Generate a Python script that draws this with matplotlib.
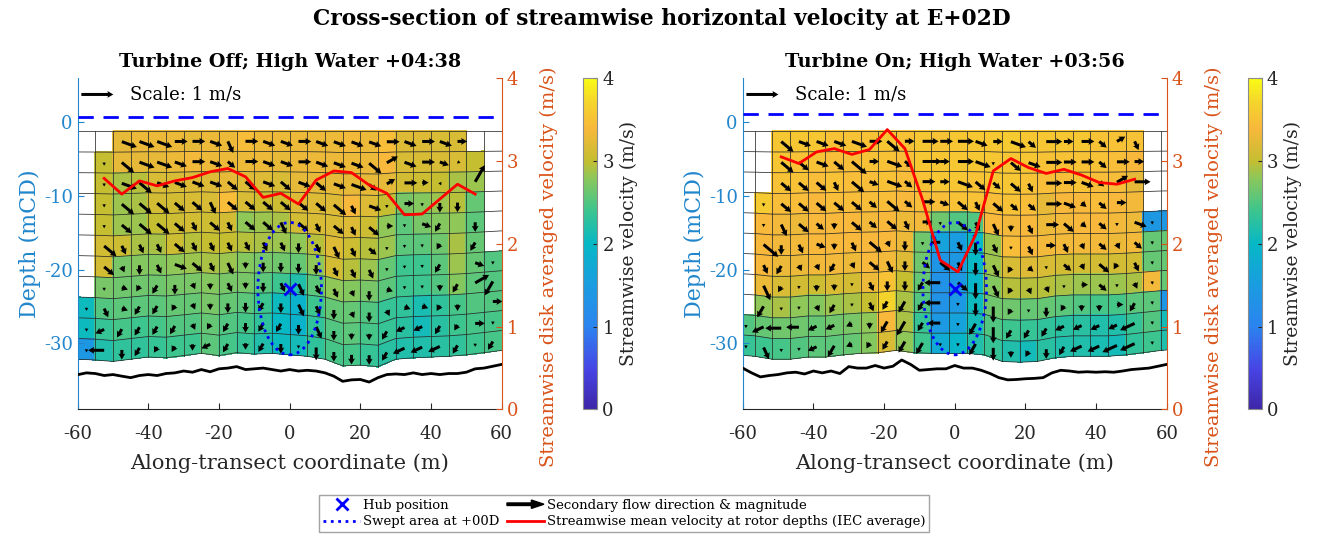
#
# Cross-section of streamwise velocity, turbine off / on, with secondary flow arrows
#

import numpy as np
import matplotlib
matplotlib.use("Agg")
from matplotlib import pyplot as plt
from matplotlib.colors import LinearSegmentedColormap
from matplotlib.patches import Ellipse, FancyArrow
from matplotlib.lines import Line2D
from matplotlib.legend_handler import HandlerBase

plt.rcParams['font.family'] = ['DejaVu Serif']
plt.rcParams['axes.unicode_minus'] = False

#
# Data
#

nan = np.nan
GRID_TOP = -1.2
N_ROWS = 11
HUB_DEPTH = -22.6
ROTOR_RADIUS = 9.0

# column edges (m) and bottom of the measurement grid at each edge (mCD)
off_edges = np.arange(-60, 61, 5)
off_bottom = [-32.2, -32.3, -32.5, -32.2, -31.9, -32.0, -31.7, -31.4, -31.7, -31.3, -31.5, -31.4, -31.6,
              -31.8, -32.2, -33.1, -33.0, -33.2, -32.2, -32.0, -31.9, -31.8, -31.6, -31.3, -31.0]
on_edges = np.arange(-61.6, 63.5, 5)
on_bottom = [-31.6, -31.8, -32.2, -32.2, -31.9, -31.9, -31.6, -31.4, -31.3, -31.0, -31.3, -31.4, -31.4,
             -31.4, -31.6, -32.5, -32.6, -32.5, -32.0, -31.8, -31.8, -31.8, -31.6, -31.3, -31.0, -30.8]

# streamwise velocity (m/s), rows from surface to bed
off_speed = [
    [nan, nan, 3.25, 3.3, 3.3, 3.3, 3.25, 3.3, 3.3, 3.45, 3.3, 3.3, 3.3, 3.3, 3.3, 3.35, 3.3, 3.45, 3.2, 3.2, 3.15, 3.15, nan, nan],
    [nan, 3.0, 3.25, 3.25, 3.25, 3.3, 3.35, 3.3, 3.3, 3.3, 3.3, 3.25, 3.3, 3.3, 3.3, 3.3, 3.3, 3.4, 3.15, 3.15, 3.15, 3.15, 3.0, nan],
    [nan, 3.0, 2.9, 2.95, 3.15, 3.15, 3.2, 3.2, 3.25, 3.2, 3.2, 3.15, 3.25, 3.25, 3.25, 3.25, 3.25, 3.25, 3.1, 3.05, 3.0, 2.9, 2.85, nan],
    [nan, 3.0, 2.85, 2.9, 3.1, 3.1, 3.15, 3.15, 3.45, 3.15, 3.05, 3.05, 3.2, 3.2, 3.2, 3.4, 3.2, 3.0, 2.7, 2.75, 2.85, 2.95, 2.6, nan],
    [nan, 3.0, 2.85, 2.85, 3.0, 3.05, 3.1, 3.05, 3.1, 2.8, 2.85, 2.9, 3.1, 3.15, 3.15, 3.2, 3.05, 2.8, 2.55, 2.7, 2.75, 2.8, 2.55, nan],
    [nan, 3.1, 3.05, 2.9, 2.9, 3.05, 2.95, 3.0, 3.0, 2.95, 2.9, 2.85, 2.8, 2.95, 3.2, 3.05, 2.95, 2.85, 2.55, 2.55, 2.65, 2.9, 2.6, nan],
    [nan, 3.1, 2.7, 2.75, 2.75, 2.8, 2.85, 2.9, 2.85, 2.75, 2.7, 2.65, 2.6, 2.8, 3.1, 2.95, 2.85, 2.6, 2.4, 2.4, 2.55, 2.85, 2.6, 2.5],
    [nan, 2.7, 2.65, 2.65, 2.65, 2.7, 2.7, 2.75, 2.7, 2.7, 2.55, 2.4, 2.2, 2.55, 2.8, 2.75, 2.7, 2.55, 2.4, 2.4, 2.5, 2.75, 2.55, 2.5],
    [2.05, 2.5, 2.55, 2.55, 2.55, 2.6, 2.6, 2.7, 2.6, 2.55, 2.4, 2.05, 1.9, 2.4, 2.6, 2.6, 2.5, 2.35, 2.3, 2.15, 2.3, 2.45, 2.5, 2.5],
    [2.05, 2.35, 2.45, 2.4, 2.45, 2.5, 2.5, 2.6, 2.5, 2.45, 2.3, 2.0, 1.9, 2.3, 2.5, 2.55, 2.45, 2.35, 2.25, 2.1, 2.25, 2.4, 2.45, 2.45],
    [1.4, 2.2, 2.3, 2.3, 2.35, 2.4, 2.4, 2.55, 2.45, 2.35, 2.2, 2.05, 2.1, 2.3, 2.45, 2.45, 2.35, 2.25, 2.2, 2.2, 2.25, 2.3, 2.4, 2.45],
]
on_speed = [
    [nan, nan, 3.55, 3.55, 3.55, 3.5, 3.5, 3.5, 3.55, 3.5, 3.55, 3.5, 3.55, 3.55, 3.55, 3.6, 3.55, 3.55, 3.55, 3.55, 3.5, 3.5, 3.5, nan, nan],
    [nan, nan, 3.55, 3.5, 3.5, 3.45, 3.45, 3.5, 3.5, 3.45, 3.55, 3.55, 3.55, 3.55, 3.55, 3.55, 3.55, 3.5, 3.5, 3.5, 3.5, 3.45, 3.4, nan, nan],
    [nan, nan, 3.5, 3.5, 3.45, 3.5, 3.45, 3.45, 3.5, 3.45, 3.5, 3.55, 3.55, 3.5, 3.55, 3.55, 3.5, 3.45, 3.45, 3.5, 3.45, 3.45, 3.25, nan, nan],
    [nan, 3.6, 3.45, 3.45, 3.4, 3.45, 3.45, 3.45, 3.45, 3.4, 3.45, 3.45, 3.5, 3.5, 3.45, 3.5, 3.45, 3.25, 3.4, 3.4, 3.45, 3.4, 3.35, nan, nan],
    [nan, 3.4, 3.35, 3.3, 3.4, 3.4, 3.4, 3.35, 3.4, 3.3, 3.35, 2.65, 2.5, 2.5, 3.4, 3.35, 3.4, 3.3, 3.35, 3.4, 3.4, 3.35, 3.3, 1.4, 1.4],
    [nan, 3.4, 3.35, 3.35, 3.4, 3.4, 3.4, 3.4, 3.4, 3.3, 2.65, 1.6, 1.5, 2.0, 2.85, 3.45, 3.4, 3.35, 3.35, 3.35, 3.35, 3.3, 3.35, 2.6, 2.6],
    [nan, 3.4, 3.3, 3.3, 3.35, 3.35, 3.3, 3.4, 3.35, 3.2, 2.65, 1.35, 1.4, 2.0, 2.85, 3.15, 3.2, 3.15, 3.1, 3.1, 3.1, 3.1, 3.1, 2.6, 2.6],
    [nan, 3.3, 3.15, 3.1, 3.05, 3.15, 3.1, 3.3, 3.5, 3.0, 2.6, 1.3, 1.4, 1.95, 2.75, 2.95, 2.95, 2.95, 2.9, 2.85, 2.85, 2.85, 2.9, 3.35, 2.6],
    [nan, 2.8, 2.9, 2.8, 2.75, 2.85, 2.9, 3.0, 3.7, 2.9, 2.5, 1.3, 1.45, 2.05, 2.65, 2.65, 2.6, 2.6, 2.55, 2.5, 2.45, 2.45, 2.55, 2.55, 1.35],
    [2.5, 2.6, 2.65, 2.65, 2.6, 2.65, 2.7, 2.8, 3.4, 2.9, 2.35, 1.45, 1.6, 2.1, 2.5, 2.4, 2.35, 2.3, 2.25, 2.25, 2.2, 2.2, 2.35, 2.5, 2.1],
    [2.35, 2.4, 2.45, 2.5, 2.55, 2.55, 2.6, 2.75, 3.15, 2.8, 2.4, 1.75, 1.95, 2.2, 2.35, 2.2, 2.1, 2.25, 2.2, 2.2, 2.15, 2.1, 2.3, 2.4, 2.2],
]

# secondary flow arrows: direction code and magnitude (tenths of m/s), one char per cell
# 6 east, e east-south-east, 3 south-east, s steep south-east, 2 down, 1 south-west,
# l west-south-west, 4 west, 9 north-east, n steep north-east, . tiny
ARROW_ANGLE = {'6': 0, 'e': -20, '3': -40, 's': -65, '2': -90, '1': -120,
               'l': -155, '4': 180, '9': 30, 'n': 60, '.': -90}
off_dir = [
    "  eee66es6ee6eeee6e6e6  ",
    " .3eee6e36ee6eee39e6ee. ",
    " .e3eeee33e3e3ee3966s.n ",
    " .33333s3333333se.6.222 ",
    " .3333s3s33s3s3s36.e122 ",
    " 3sss3ssssss2sss3...121 ",
    " 3s2se3ss22222sss...11e.",
    " .e112s2s22sssss2e..2191",
    ".se111s22212ss2s2see1266",
    ".l1111s112112s2221ll116.",
    ".421112l1212.22221lll1.1",
]
off_mag = [
    "  55544444444444444443  ",
    " 155544434444444544431  ",
    " 15544444444444533421 6 ",
    " 155544444444453413133 3",
    " 14554343444434342133 3 ",
    " 53334333333334331112 3 ",
    " 42334434233333331113 31",
    " 12233223233433232112355",
    "1323322233334332322222 3",
    "133333223333343223333231",
    "153322233233143333444313",
]
on_dir = [
    "  3eeee636666e6e366639s  ",
    "  33e336e3666e.3e666366  ",
    "  333s3ee366e333s66e396  ",
    " .333333336e3s3336e3366  ",
    " .s332333s6.3ss2s6333.e. ",
    " 32se2s3s2.4s2s.s6ss3s3. ",
    " s1ss1s3s233s2s13.3s31s. ",
    " s1.22.s221432s1ss.63.s. ",
    " 1..s1.s1114.221.212261. ",
    ".l44lll21114.12111lllll. ",
    ".s..l1l1111..122121llll. ",
]
on_mag = [
    "  544454535454353534333  ",
    "  544463536355144544343  ",
    "  444353534354343544245  ",
    " 144444353434343354233 4 ",
    " 14432434331434234423141 ",
    " 63332352313343133323231 ",
    " 33223244334344221324231 ",
    " 52122133335454222123121 ",
    " 41123133435145213222231 ",
    "145433224534145333333351 ",
    "141134223441144223344551 ",
]

# disk averaged streamwise velocity (right axis, m/s)
off_disk_x = np.arange(-52.5, 53, 5)
off_disk = [2.79, 2.60, 2.76, 2.70, 2.76, 2.80, 2.87, 2.91, 2.81, 2.56, 2.61, 2.48, 2.77, 2.88, 2.86,
            2.71, 2.61, 2.35, 2.36, 2.54, 2.72, 2.60]
on_disk_x = np.arange(-49.1, 51, 5)
on_disk = [3.05, 2.97, 3.11, 3.15, 3.08, 3.14, 3.38, 3.15, 2.53, 1.80, 1.66, 2.11, 2.88, 3.03, 2.92,
           2.85, 2.90, 2.83, 2.74, 2.72, 2.78]

# bed level (mCD)
bed_x = np.arange(-60, 60.1, 2.5)
off_bed = [-34.3, -34.05, -34.14, -34.41, -34.28, -34.5, -34.7, -34.41, -34.28, -34.41, -34.14, -34.05,
           -33.8, -33.96, -33.6, -33.9, -33.5, -33.4, -33.2, -33.6, -33.5, -33.4, -33.6, -33.8, -33.6,
           -33.8, -33.7, -33.8, -34.05, -34.5, -35.2, -35.0, -34.95, -35.3, -34.7, -34.28, -34.2, -34.28,
           -34.05, -34.28, -34.14, -34.28, -34.14, -34.14, -33.96, -33.5, -33.4, -33.15, -32.9]
on_bed = [-33.4, -34.05, -34.6, -34.41, -34.28, -34.05, -33.96, -34.2, -33.8, -34.05, -33.8, -34.14,
          -33.2, -33.4, -33.4, -33.05, -33.4, -33.15, -32.3, -32.9, -33.7, -33.6, -33.5, -33.5, -33.05,
          -33.4, -33.4, -33.7, -34.14, -34.7, -35.0, -34.95, -34.85, -34.8, -34.7, -34.05, -33.7, -33.8,
          -33.96, -33.9, -33.96, -33.9, -33.96, -33.8, -33.6, -33.5, -33.4, -33.15, -32.9]

off_surface = 0.8
on_surface = 1.1

#
# Styling
#

BLUE_AX = '#2186cc'
ORANGE_AX = '#d95319'
parula = LinearSegmentedColormap.from_list('parula_like', [
    (0.00, '#3e26a8'), (0.12, '#4744e5'), (0.25, '#2b84f0'), (0.375, '#1a9ce0'),
    (0.50, '#06b8c6'), (0.60, '#3cc58e'), (0.70, '#8dc75a'), (0.75, '#c4be31'),
    (0.85, '#f8b83b'), (0.93, '#f5d52c'), (1.00, '#f9fb15')])


class HandlerArrow(HandlerBase):
    def create_artists(self, legend, orig_handle, xdescent, ydescent, width, height, fontsize, trans):
        arrow = FancyArrow(-xdescent, height / 2 - ydescent, width, 0, width=1.8, head_width=6,
                           head_length=9, length_includes_head=True, color='k', transform=trans)
        return [arrow]


def draw_panel(ax, edges, bottom, speed, dirs, mags, disk_x, disk_v, bed, surface, title):
    edges = np.asarray(edges, float)
    bottom = np.asarray(bottom, float)
    frac = np.linspace(0, 1, N_ROWS + 1)[:, None]
    X = np.tile(edges, (N_ROWS + 1, 1))
    Y = GRID_TOP + (bottom[None, :] - GRID_TOP) * frac

    C = np.ma.masked_invalid(np.array(speed, float))
    mesh = ax.pcolormesh(X, Y, C, cmap=parula, vmin=0, vmax=4, shading='flat',
                         edgecolors='face', linewidth=0.2, zorder=1)

    # mesh lines, also over empty cells
    for k in range(N_ROWS + 1):
        ax.plot(X[k], Y[k], color='#2a2a2a', lw=0.55, zorder=2)
    for j in range(len(edges)):
        ax.plot(X[:, j], Y[:, j], color='#2a2a2a', lw=0.55, zorder=2)

    # arrows at cell centres
    XC = 0.25 * (X[:-1, :-1] + X[1:, :-1] + X[:-1, 1:] + X[1:, 1:])
    YC = 0.25 * (Y[:-1, :-1] + Y[1:, :-1] + Y[:-1, 1:] + Y[1:, 1:])
    ang = np.array([[ARROW_ANGLE.get(ch, nan) for ch in row] for row in dirs], float)
    mag = np.array([[int(ch) / 10 if ch.strip() else nan for ch in row] for row in mags], float)
    U = np.ma.masked_invalid(mag * np.cos(np.radians(ang)))
    V = np.ma.masked_invalid(mag * np.sin(np.radians(ang)))
    q = ax.quiver(XC, YC, U, V, angles='uv', scale_units='inches', scale=1 / 0.32,
                  units='dots', width=3.0, headwidth=2.3, headlength=2.0, headaxislength=1.8,
                  pivot='tail', color='k', zorder=4)
    ax.quiverkey(q, X=(-49.9 + 60) / 120, Y=(3.8 + 39) / 45, U=1, label='Scale: 1 m/s',
                 labelpos='E', coordinates='axes', labelsep=0.17,
                 fontproperties={'size': 13, 'family': 'DejaVu Serif'})

    ax.plot(bed_x, bed, color='k', lw=2, zorder=3)
    ax.axhline(surface, color='blue', ls='--', lw=2, dashes=(5.5, 3.5), zorder=3)
    ax.add_patch(Ellipse((0, HUB_DEPTH), 2 * ROTOR_RADIUS, 2 * ROTOR_RADIUS, fill=False,
                         ls=':', lw=2, edgecolor='blue', zorder=5))
    ax.plot([0], [HUB_DEPTH], 'x', color='blue', ms=9, mew=2, zorder=6)

    ax.set_xlim(-60, 60)
    ax.set_ylim(-39, 6)
    ax.set_xticks([-60, -40, -20, 0, 20, 40, 60])
    ax.set_yticks([-30, -20, -10, 0])
    ax.tick_params(axis='x', direction='in', labelsize=13, colors='#262626', length=4, pad=11)
    ax.tick_params(axis='y', direction='in', labelsize=13, colors=BLUE_AX, length=4)
    ax.spines['top'].set_visible(False)
    ax.spines['right'].set_visible(False)
    ax.spines['left'].set_color(BLUE_AX)
    ax.spines['bottom'].set_color('#262626')
    ax.set_xlabel('Along-transect coordinate (m)', fontsize=15, color='#262626', labelpad=8)
    ax.set_ylabel('Depth (mCD)', fontsize=16, color=BLUE_AX, labelpad=2)
    ax.set_title(title, fontsize=13.8, fontweight='bold', pad=8)

    ax2 = ax.twinx()
    ax2.plot(disk_x, disk_v, color='red', lw=2)
    ax2.set_ylim(0, 4)
    ax2.set_yticks([0, 1, 2, 3, 4])
    ax2.tick_params(axis='y', direction='in', labelsize=13, colors=ORANGE_AX, length=4)
    for side in ['top', 'left', 'bottom']:
        ax2.spines[side].set_visible(False)
    ax2.spines['right'].set_color(ORANGE_AX)
    ax2.set_ylabel('Streamwise disk averaged velocity (m/s)', fontsize=14, color=ORANGE_AX)
    ax2.yaxis.set_label_coords(1.09, 0.43)
    return mesh


fig = plt.figure(figsize=(13.23, 5.35), dpi=100)
fig.suptitle('Cross-section of streamwise horizontal velocity at E+02D', fontsize=15.7,
             fontweight='bold', y=0.985)

panels = [
    (0.0587, off_edges, off_bottom, off_speed, off_dir, off_mag, off_disk_x, off_disk, off_bed,
     off_surface, 'Turbine Off; High Water +04:38', 0.4410),
    (0.5614, on_edges, on_bottom, on_speed, on_dir, on_mag, on_disk_x, on_disk, on_bed,
     on_surface, 'Turbine On; High Water +03:56', 0.9431),
]
for left, edges, bottom, speed, dirs, mags, dx, dv, bed, surf, title, cb_left in panels:
    ax = fig.add_axes([left, 0.2350, 0.3205, 0.6187])
    mesh = draw_panel(ax, edges, bottom, speed, dirs, mags, dx, dv, bed, surf, title)
    cax = fig.add_axes([cb_left, 0.2350, 0.0106, 0.6187])
    cb = fig.colorbar(mesh, cax=cax)
    cb.set_ticks([0, 1, 2, 3, 4])
    cb.ax.tick_params(direction='in', labelsize=13, length=3, colors='#262626')
    cb.outline.set_edgecolor('#8c8c8c')
    cb.set_label('Streamwise velocity (m/s)', fontsize=13.5, color='#262626')

# legend
arrow_proxy = Line2D([], [], color='k')
handles = [
    Line2D([], [], ls='none', marker='x', color='blue', ms=8, mew=2),
    Line2D([], [], ls=':', lw=2, color='blue'),
    arrow_proxy,
    Line2D([], [], lw=2, color='red'),
]
labels = ['Hub position', 'Swept area at +00D', 'Secondary flow direction & magnitude',
          'Streamwise mean velocity at rotor depths (IEC average)']
fig.legend(handles, labels, loc='center', bbox_to_anchor=(0.4717, 0.0402), ncol=2,
           fontsize=9.5, frameon=True, fancybox=False, edgecolor='#8c8c8c', handlelength=2.8,
           handletextpad=0.2, columnspacing=0.6, borderpad=0.3, labelspacing=0.25,
           handler_map={arrow_proxy: HandlerArrow()})

plt.savefig('out.png', dpi=100)
